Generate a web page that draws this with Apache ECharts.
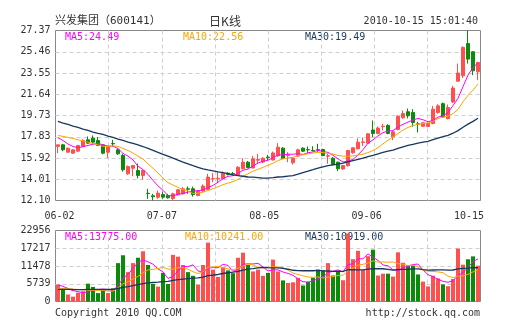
<!DOCTYPE html>
<html>
<head>
<meta charset="utf-8">
<script src="https://cdn.jsdelivr.net/npm/echarts@6/dist/echarts.min.js"></script>
<style>
  html, body { margin: 0; padding: 0; background: #fff; }
  #chart { width: 505px; height: 330px; }
</style>
</head>
<body>
<div id="chart"></div>
<script>
// Daily K-line of 兴发集团 (600141), 2010-06-02 .. 2010-10-15
const opens = [16.95,17.10,16.44,16.35,16.53,16.95,17.55,17.70,17.49,17.10,
  16.44,17.22,16.65,16.14,14.50,15.00,14.79,14.35,12.75,12.52,
  12.40,12.64,12.55,12.28,12.61,12.70,13.15,13.15,12.55,12.95,
  13.10,14.05,14.05,14.05,14.55,14.52,14.35,14.95,15.54,15.02,
  15.72,15.56,16.00,15.74,16.11,16.80,16.15,15.49,16.10,16.80,
  16.67,16.60,16.66,16.68,16.08,15.90,15.54,14.93,15.22,16.38,
  16.74,17.31,17.25,18.43,18.12,18.73,18.84,17.82,18.48,19.53,
  20.07,20.00,18.98,18.77,18.75,19.02,20.00,20.80,19.45,20.95,
  22.82,23.30,26.20,25.46,23.66];
const closes = [17.10,16.65,16.80,16.65,17.04,17.49,17.25,17.34,17.04,16.35,
  16.95,17.19,16.29,14.86,15.15,15.24,14.35,14.79,12.72,12.43,
  12.76,12.40,12.34,12.70,13.06,13.15,13.12,12.64,12.95,13.40,
  14.20,14.07,14.10,14.55,14.44,14.48,15.09,15.54,15.06,15.84,
  15.78,15.90,15.96,16.37,16.89,15.90,16.20,15.90,16.65,16.53,
  16.65,16.58,16.63,16.14,16.12,15.33,14.95,15.24,16.59,16.83,
  17.34,17.36,18.09,18.12,18.61,18.77,18.12,18.27,19.67,19.91,
  19.71,19.11,18.95,19.08,19.02,20.30,20.60,19.60,20.45,22.20,
  23.55,25.85,24.80,23.75,24.50];
const lows = [16.35,16.53,16.38,16.30,16.48,16.90,17.20,17.28,16.98,16.25,
  15.93,16.95,16.20,14.70,14.40,14.28,14.08,13.96,12.25,12.10,
  12.25,12.25,12.28,12.10,12.55,12.65,12.70,12.45,12.48,12.90,
  13.05,13.74,13.65,14.00,14.35,14.35,14.30,14.90,15.00,14.98,
  15.40,15.45,15.70,15.70,16.05,15.85,15.54,15.33,16.00,16.45,
  16.35,16.50,16.44,16.08,15.40,15.25,14.73,14.85,15.15,16.30,
  16.70,16.98,17.20,17.79,18.05,18.39,18.05,17.52,18.40,19.45,
  19.47,18.72,18.21,18.70,18.68,18.95,19.90,19.55,19.40,20.85,
  22.75,23.10,24.40,23.36,22.91];
const highs = [17.12,17.19,16.85,16.70,17.10,17.60,17.85,17.94,17.80,17.15,
  17.00,17.55,16.75,16.30,15.25,15.30,15.42,14.85,13.15,12.70,
  13.00,12.90,12.70,12.80,13.15,13.30,13.36,13.35,13.05,13.55,
  14.50,14.55,14.64,14.70,14.64,14.66,15.20,15.90,15.65,16.10,
  16.29,16.00,16.20,16.50,17.25,16.90,16.44,16.00,16.75,16.89,
  16.95,16.98,17.19,16.75,16.30,16.00,15.60,15.30,16.65,16.90,
  17.67,17.76,18.15,19.29,18.75,19.00,18.95,18.35,19.75,20.18,
  20.36,20.30,19.17,19.15,19.10,20.60,20.75,20.90,20.72,22.40,
  24.40,25.95,27.37,25.52,24.55];
const volumes = [5420,3910,2270,1570,2860,3320,5760,4720,2730,3430,
  2730,4260,12410,14950,9500,12410,14150,16240,11810,5670,
  4840,9260,5670,15090,14500,11810,9500,8320,5420,11810,
  19040,10310,7970,11010,10060,9160,14150,15790,11810,9720,
  10310,8320,9260,13560,9720,6820,6010,6220,7650,5170,
  6360,7650,10310,10060,12410,8400,9960,6880,22000,13690,
  16400,10160,14650,16760,8400,9000,9000,8050,15900,12530,
  11710,11610,8750,6430,4880,8350,7450,5520,4950,7265,
  17130,11910,13650,14590,11595];

// Average values for the first days, before a full window of sessions exists
const ma5Head = [17.74,17.49,17.17,16.95];
const ma10Head = [17.94,17.86,17.77,17.67,17.56,17.45,17.33,17.21,17.09];
const ma30Head = [19.20,19.06,18.93,18.79,18.66,18.52,18.39,18.25,18.12,18.03,
  17.89,17.76,17.62,17.49,17.35,17.22,17.09,16.95,16.78,16.60,
  16.42,16.25,16.08,15.90,15.72,15.55,15.39,15.23,15.08];
const volMa5Head = [5400,4900,4200,3500];
const volMa10Head = [4300,4200,4100,4000,3900,3800,3700,3650,3600];
const volMa30Head = [3950,3930,3900,3880,3870,3870,3890,3900,3890,3880,
  3880,3900,4200,4550,4800,5100,5450,5800,6050,6150,
  6250,6400,6500,6800,7050,7250,7400,7550,7650];

// Axis tick labels
const priceTicks = ['12.10','14.01','15.92','17.83','19.73','21.64','23.55','25.46','27.37'];
const volTicks = ['0','5739','11478','17217','22956'];
const dateTicks = ['06-02','07-07','08-05','09-06','10-15'];

function movingAverage(values, n, head) {
  return values.map((v, i) => {
    if (i < n - 1) return head[i];
    let s = 0;
    for (let k = i - n + 1; k <= i; k++) s += values[k];
    return s / n;
  });
}

const ma5 = movingAverage(closes, 5, ma5Head);
const ma10 = movingAverage(closes, 10, ma10Head);
const ma30 = movingAverage(closes, 30, ma30Head);
const vma5 = movingAverage(volumes, 5, volMa5Head);
const vma10 = movingAverage(volumes, 10, volMa10Head);
const vma30 = movingAverage(volumes, 30, volMa30Head);

const RED = '#ff5050';
const GREEN = '#0a8c0a';
const MAGENTA = '#ff00ff';
const ORANGE = '#ffa500';
const NAVY = '#17375e';
const MONO = "'DejaVu Sans Mono','Liberation Mono',monospace";
const CJK = "'DejaVu Sans Mono','Noto Sans CJK SC',sans-serif";

const sessions = closes.map((_, i) => i);
const candles = closes.map((c, i) => [opens[i], c, lows[i], highs[i]]);
const volBars = volumes.map((v, i) => ({
  value: v,
  itemStyle: { color: closes[i] >= opens[i] ? RED : GREEN }
}));

const last = a => a[a.length - 1];
const dash = { color: '#cfcfcf', width: 1, type: [4, 3] };
const hiddenAxis = { axisLine: { show: false }, axisTick: { show: false }, axisLabel: { show: false }, splitLine: { show: false } };
const gridFrame = { show: true, borderColor: '#888888', borderWidth: 1, backgroundColor: 'transparent' };

const chart = echarts.init(document.getElementById('chart'), null, { renderer: 'canvas' });

function txt(x, y, text, fill, font, align) {
  return { type: 'text', x, y, silent: true,
    style: { text, fill, font, align: align || 'left', verticalAlign: 'middle' } };
}

chart.setOption({
  animation: false,
  backgroundColor: '#fff',
  grid: [
    Object.assign({ left: 55.5, top: 30.5, width: 425, height: 170 }, gridFrame),
    Object.assign({ left: 55.5, top: 230.5, width: 425, height: 71 }, gridFrame),
    { left: 59.5, top: 203, width: 409.5, height: 2, show: false }
  ],
  xAxis: [
    Object.assign({ type: 'category', gridIndex: 0, data: sessions, boundaryGap: true }, hiddenAxis),
    Object.assign({ type: 'value', gridIndex: 0, min: 0, max: 8, interval: 1 }, hiddenAxis,
      { splitLine: { show: true, showMinLine: false, showMaxLine: false, lineStyle: dash } }),
    Object.assign({ type: 'category', gridIndex: 1, data: sessions, boundaryGap: true }, hiddenAxis),
    Object.assign({ type: 'value', gridIndex: 1, min: 0, max: 8, interval: 1 }, hiddenAxis,
      { splitLine: { show: true, showMinLine: false, showMaxLine: false, lineStyle: dash } }),
    { type: 'category', gridIndex: 2, data: dateTicks, boundaryGap: false,
      axisLine: { show: false }, axisTick: { show: false }, splitLine: { show: false },
      axisLabel: { interval: 0, margin: 6, color: '#333', fontFamily: MONO, fontSize: 10 } }
  ],
  yAxis: [
    Object.assign({ type: 'value', gridIndex: 0, min: 12.10, max: 27.37, position: 'right' }, hiddenAxis),
    { type: 'value', gridIndex: 0, min: 0, max: 8, interval: 1, position: 'left',
      axisLine: { show: false }, axisTick: { show: false },
      axisLabel: { margin: 5, color: '#333', fontFamily: MONO, fontSize: 10,
        formatter: v => priceTicks[Math.round(v)] },
      splitLine: { show: true, showMinLine: false, showMaxLine: false, lineStyle: dash } },
    { type: 'value', gridIndex: 1, min: 0, max: 22956, interval: 5739, position: 'left',
      axisLine: { show: false }, axisTick: { show: false },
      axisLabel: { margin: 5, color: '#333', fontFamily: MONO, fontSize: 10,
        formatter: (v, i) => volTicks[i] },
      splitLine: { show: true, showMinLine: false, showMaxLine: false, lineStyle: dash } },
    Object.assign({ type: 'value', gridIndex: 2 }, hiddenAxis)
  ],
  series: [
    { type: 'candlestick', xAxisIndex: 0, yAxisIndex: 0, data: candles, barWidth: 3,
      itemStyle: { color: RED, color0: GREEN, borderColor: RED, borderColor0: GREEN, borderWidth: 1 } },
    { type: 'line', xAxisIndex: 0, yAxisIndex: 0, data: ma5, showSymbol: false,
      lineStyle: { color: MAGENTA, width: 1 }, z: 3 },
    { type: 'line', xAxisIndex: 0, yAxisIndex: 0, data: ma10, showSymbol: false,
      lineStyle: { color: ORANGE, width: 1 }, z: 3 },
    { type: 'line', xAxisIndex: 0, yAxisIndex: 0, data: ma30, showSymbol: false,
      lineStyle: { color: NAVY, width: 1.3 }, z: 3 },
    { type: 'bar', xAxisIndex: 2, yAxisIndex: 2, data: volBars, barWidth: 4 },
    { type: 'line', xAxisIndex: 2, yAxisIndex: 2, data: vma5, showSymbol: false,
      lineStyle: { color: MAGENTA, width: 1 }, z: 3 },
    { type: 'line', xAxisIndex: 2, yAxisIndex: 2, data: vma10, showSymbol: false,
      lineStyle: { color: ORANGE, width: 1 }, z: 3 },
    { type: 'line', xAxisIndex: 2, yAxisIndex: 2, data: vma30, showSymbol: false,
      lineStyle: { color: NAVY, width: 1.3 }, z: 3 }
  ],
  graphic: [
    txt(55, 21, '兴发集团（600141）', '#333', `11px ${CJK}`),
    txt(225, 21, '日K线', '#333', `12px 'Noto Sans CJK SC',sans-serif`, 'center'),
    txt(478, 21, '2010-10-15 15:01:40', '#333', `10px ${MONO}`, 'right'),
    txt(65, 37, 'MA5:' + last(ma5).toFixed(2), MAGENTA, `10px ${MONO}`),
    txt(183, 37, 'MA10:' + last(ma10).toFixed(2), ORANGE, `10px ${MONO}`),
    txt(305, 37, 'MA30:' + last(ma30).toFixed(2), NAVY, `10px ${MONO}`),
    txt(65, 237, 'MA5:' + last(vma5).toFixed(2), MAGENTA, `10px ${MONO}`),
    txt(185, 237, 'MA10:' + last(vma10).toFixed(2), ORANGE, `10px ${MONO}`),
    txt(305, 237, 'MA30:' + last(vma30).toFixed(2), NAVY, `10px ${MONO}`),
    txt(55, 313, 'Copyright 2010 QQ.COM', '#333', `10px ${MONO}`),
    txt(480, 313, 'http://stock.qq.com', '#333', `10px ${MONO}`, 'right')
  ]
});
</script>
</body>
</html>
